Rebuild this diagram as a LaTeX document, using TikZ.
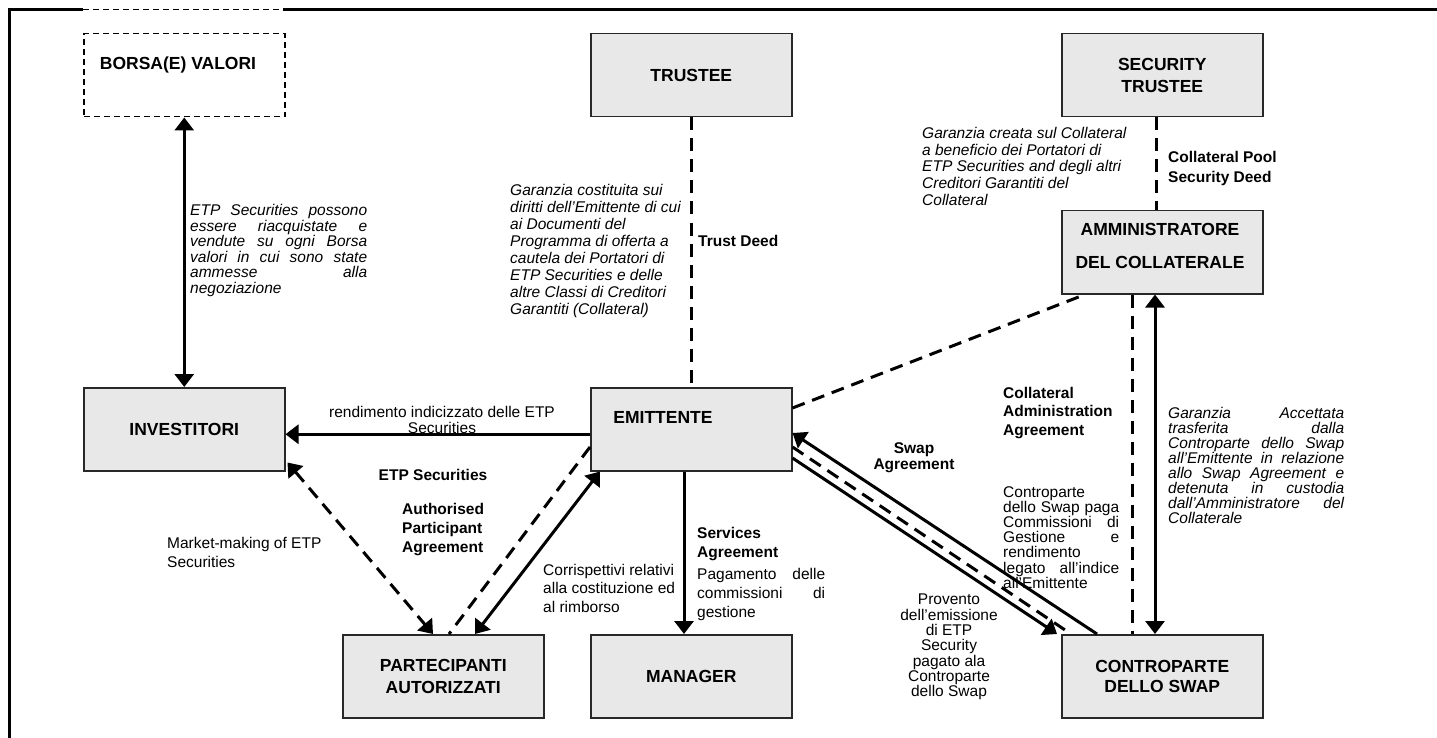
\documentclass[tikz,border=0pt]{standalone}
\usepackage{fontspec}
\setmainfont{Liberation Sans}
\usetikzlibrary{arrows.meta}
\definecolor{boxfill}{RGB}{232,232,232}
\definecolor{boxline}{RGB}{40,40,40}
\newcommand{\jl}[2]{\makebox[#1][s]{#2}}
\tikzset{
  box/.style={draw=boxline, line width=1.5pt, fill=boxfill, minimum width=201pt, minimum height=83pt,
    inner sep=0pt, anchor=north west, font=\fontsize{17.5}{22}\selectfont\bfseries, align=center},
  boxlbl/.style={inner sep=0pt, font=\fontsize{17.5}{21}\selectfont\bfseries, align=center},
  rtxt/.style={inner sep=0pt, align=left, font=\fontsize{15.5}{#1}\selectfont},
  rtxt/.default=15.6,
  itxt/.style={inner sep=0pt, align=left, font=\fontsize{15.5}{#1}\selectfont\itshape},
  itxt/.default=15.6,
  btxt/.style={inner sep=0pt, align=left, font=\fontsize{15.5}{#1}\selectfont\bfseries},
  btxt/.default=19,
  conn/.style={line width=3pt},
  dsh/.style={line width=3pt, dash pattern=on 13pt off 8pt},
  >={Triangle[width=19pt,length=13pt]}
}
\begin{document}
\begin{tikzpicture}[x=1pt,y=-1pt]
\useasboundingbox (0,0) rectangle (1437,738);
% frame
\draw[line width=3pt, line join=miter] (9.5,738) -- (9.5,9.5) -- (83,9.5);
\draw[line width=1.5pt, dash pattern=on 6pt off 4pt] (83,9.5) -- (283,9.5);
\draw[line width=3pt] (283,9.5) -- (1437,9.5);

% boxes
\node[box, draw=black, fill=white, dash pattern=on 6pt off 4pt] (borsa) at (83,33) {};
\node[boxlbl] (borsaT) at (178,65) {BORSA(E) VALORI};
\node[box] (trustee) at (590,33) {TRUSTEE};
\node[box] (sectrustee) at (1061,33) {SECURITY\\TRUSTEE};
\node[box] (admin) at (1061,210) {};
\node[boxlbl] (adminT) at (1160,245.5) {AMMINISTRATORE\\[12pt]DEL COLLATERALE};
\node[box] (investitori) at (83,387) {INVESTITORI};
\node[box] (emittente) at (590,387) {};
\node[boxlbl] (emittenteT) at (663,417) {EMITTENTE};
\node[box] (partecipanti) at (342,634) {PARTECIPANTI\\AUTORIZZATI};
\node[box] (manager) at (590,634) {MANAGER};
\node[box, font=\fontsize{17.5}{20}\selectfont\bfseries] (swap) at (1061,634) {CONTROPARTE\\DELLO SWAP};

% connectors
\draw[conn, <->] (borsa.south) -- (investitori.north);
\draw[dsh] (trustee.south) -- (emittente.north);
\draw[dsh] ([xshift=-6pt]sectrustee.south) -- ([xshift=-6pt]admin.north);
\draw[dsh] ([yshift=-21pt]emittente.north east) -- ([xshift=24pt]admin.south west);
\draw[dsh] ([xshift=71pt]admin.south west) -- ([xshift=71pt]swap.north west);
\draw[conn, <->] ([xshift=94pt]admin.south west) -- ([xshift=94pt]swap.north west);
\draw[conn, ->] ([yshift=-5pt]emittente.west) -- ([yshift=-5pt]investitori.east);
\draw[dsh, <->] ([yshift=9pt,xshift=2pt]investitori.south east) -- ([xshift=91pt]partecipanti.north west);
\draw[dsh] ([yshift=-60pt]emittente.north west) -- ([xshift=107pt]partecipanti.north west);
\draw[conn, <->] ([xshift=10pt]emittente.south west) -- ([xshift=133pt]partecipanti.north west);
\draw[conn, ->] ([xshift=94pt]emittente.south west) -- ([xshift=94pt]manager.north west);
\draw[conn, ->] ([xshift=36pt]swap.north west) -- ([yshift=-46pt]emittente.north east);
\draw[dsh] ([yshift=-60pt]emittente.north east) -- ([xshift=10pt]swap.north west);
\draw[conn, ->] ([yshift=-71pt]emittente.north east) -- ([xshift=-4pt]swap.north west);

% labels
\node[itxt, anchor=north west] (tBorsa) at (190,204) {\jl{177pt}{ETP Securities possono}\\
\jl{177pt}{essere riacquistate e}\\
\jl{177pt}{vendute su ogni Borsa}\\
\jl{177pt}{valori in cui sono state}\\
\jl{177pt}{ammesse alla}\\
negoziazione};

\node[itxt=17, anchor=north west] (tTrust) at (510,184) {Garanzia costituita sui\\
diritti dell'Emittente di cui\\
ai Documenti del\\
Programma di offerta a\\
cautela dei Portatori di\\
ETP Securities e delle\\
altre Classi di Creditori\\
Garantiti (Collateral)};
\node[btxt, anchor=north west] (tTrustDeed) at (698,235) {Trust Deed};

\node[itxt=16.7, anchor=north west] (tSec) at (922,127) {Garanzia creata sul Collateral\\
a beneficio dei Portatori di\\
ETP Securities and degli altri\\
Creditori Garantiti del\\
Collateral};
\node[btxt=20, anchor=north west] (tPool) at (1168,151) {Collateral Pool\\Security Deed};

\node[rtxt=15.7, anchor=north, align=center] (tRend) at (442,406) {rendimento indicizzato delle ETP\\Securities};
\node[btxt, anchor=north] (tETP) at (433,469) {ETP Securities};
\node[btxt, anchor=north west] (tAP) at (402,503) {Authorised\\Participant\\Agreement};
\node[rtxt=19, anchor=north west] (tMM) at (167,537) {Market-making of ETP\\Securities};
\node[rtxt=18.5, anchor=north west] (tCorr) at (543,564) {Corrispettivi relativi\\alla costituzione ed\\al rimborso};
\node[btxt, anchor=north west] (tServ) at (697,527) {Services\\Agreement};
\node[rtxt=19, anchor=north west] (tPag) at (697,568) {\jl{128pt}{Pagamento delle}\\
\jl{128pt}{commissioni di}\\
gestione};
\node[btxt=16, anchor=north, align=center] (tSwap) at (914,442) {Swap\\Agreement};
\node[btxt=18.5, anchor=north west] (tCAA) at (1003,387) {Collateral\\Administration\\Agreement};
\node[rtxt=15.2, anchor=north west] (tCtp) at (1003,486) {Controparte\\
\jl{116pt}{dello Swap paga}\\
\jl{116pt}{Commissioni di}\\
\jl{116pt}{Gestione e}\\
rendimento\\
\jl{116pt}{legato all'indice}\\
all'Emittente};
\node[rtxt=15.3, anchor=north, align=center] (tProv) at (949,594) {Provento\\dell'emissione\\di ETP\\Security\\pagato ala\\Controparte\\dello Swap};
\node[itxt=15, anchor=north west] (tGar) at (1168,407) {\jl{176pt}{Garanzia Accettata}\\
\jl{176pt}{trasferita dalla}\\
\jl{176pt}{Controparte dello Swap}\\
\jl{176pt}{all'Emittente in relazione}\\
\jl{176pt}{allo Swap Agreement e}\\
\jl{176pt}{detenuta in custodia}\\
\jl{176pt}{dall'Amministratore del}\\
Collaterale};
\end{tikzpicture}
\end{document}
